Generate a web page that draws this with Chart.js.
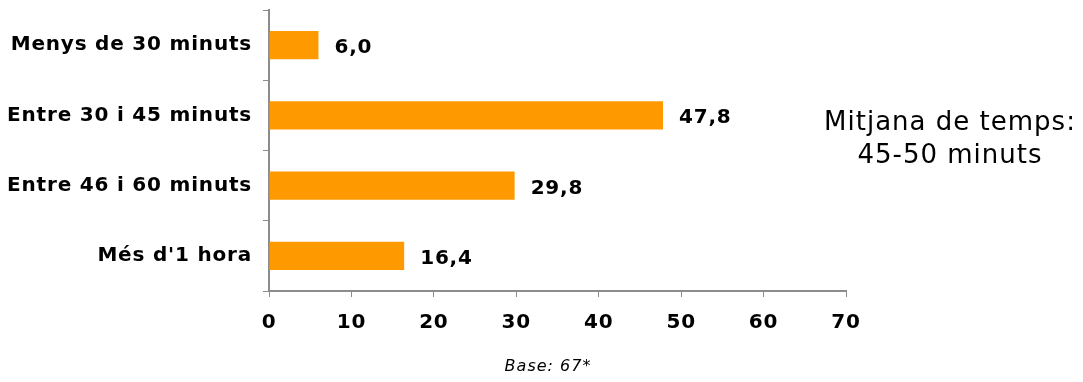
<!DOCTYPE html>
<html><head><meta charset="utf-8">
<script src="https://cdn.jsdelivr.net/npm/chart.js@4/dist/chart.umd.min.js"></script>
<style>html,body{margin:0;padding:0;background:#fff}#wrap{width:1083px;height:382px;position:relative}</style>
</head><body><div id="wrap"><canvas id="c" width="1083" height="382"></canvas></div>
<script>
const categories = ["Menys de 30 minuts", "Entre 30 i 45 minuts", "Entre 46 i 60 minuts", "Més d'1 hora"];
const values = [6.0, 47.8, 29.8, 16.4];
const xTicks = [0, 10, 20, 30, 40, 50, 60, 70];
const noteLines = ["Mitjana de temps:", "45-50 minuts"];
const baseNote = "Base: 67*";

const FONT = "'DejaVu Sans', Verdana, sans-serif";
const axisGray = '#8c8c8c';

const spacingPlugin = {
  id: 'spacing',
  beforeDraw(chart) { chart.ctx.letterSpacing = '0.8px'; }
};

const labelPlugin = {
  id: 'labels',
  afterDatasetsDraw(chart) {
    const ctx = chart.ctx;
    const meta = chart.getDatasetMeta(0);
    ctx.save();
    ctx.letterSpacing = '0.8px';
    ctx.font = "bold 20px " + FONT;
    ctx.fillStyle = '#000';
    ctx.textBaseline = 'alphabetic';
    ctx.textAlign = 'left';
    meta.data.forEach((bar, i) => {
      ctx.fillText(values[i].toFixed(1).replace('.', ','), bar.x + 16, bar.y + 8);
    });
    ctx.letterSpacing = '1px';
    ctx.font = "26px " + FONT;
    ctx.textAlign = 'center';
    ctx.fillText(noteLines[0], 950, 130);
    ctx.fillText(noteLines[1], 950, 163);
    ctx.font = "italic 16px " + FONT;
    ctx.fillText(baseNote, 548, 371);
    ctx.restore();
  }
};

new Chart(document.getElementById('c'), {
  type: 'bar',
  data: {
    labels: categories,
    datasets: [{
      data: values,
      backgroundColor: '#FF9900',
      categoryPercentage: 0.4,
      barPercentage: 1.0
    }]
  },
  options: {
    indexAxis: 'y',
    responsive: false,
    animation: false,
    layout: { padding: { top: 10, left: 0, right: 237, bottom: 0 } },
    plugins: { legend: { display: false }, tooltip: { enabled: false } },
    scales: {
      x: {
        min: 0, max: 70,
        afterBuildTicks(axis) { axis.ticks = xTicks.map(v => ({ value: v })); },
        afterFit(axis) { axis.height = 91; axis.paddingLeft = 0; axis.paddingRight = 0; },
        grid: { drawOnChartArea: false, drawTicks: true, tickLength: 6, color: axisGray },
        border: { color: axisGray, width: 2 },
        ticks: { color: '#000', font: { family: FONT, size: 20, weight: 'bold' }, padding: 14, maxRotation: 0 }
      },
      y: {
        afterFit(axis) { axis.width = 269; axis.paddingTop = 0; axis.paddingBottom = 0; },
        grid: { drawOnChartArea: false, drawTicks: true, tickLength: 6, color: axisGray, offset: true },
        border: { color: axisGray, width: 2 },
        ticks: { color: '#000', font: { family: FONT, size: 20, weight: 'bold' }, padding: 11 }
      }
    }
  },
  plugins: [spacingPlugin, labelPlugin]
});
</script></body></html>
